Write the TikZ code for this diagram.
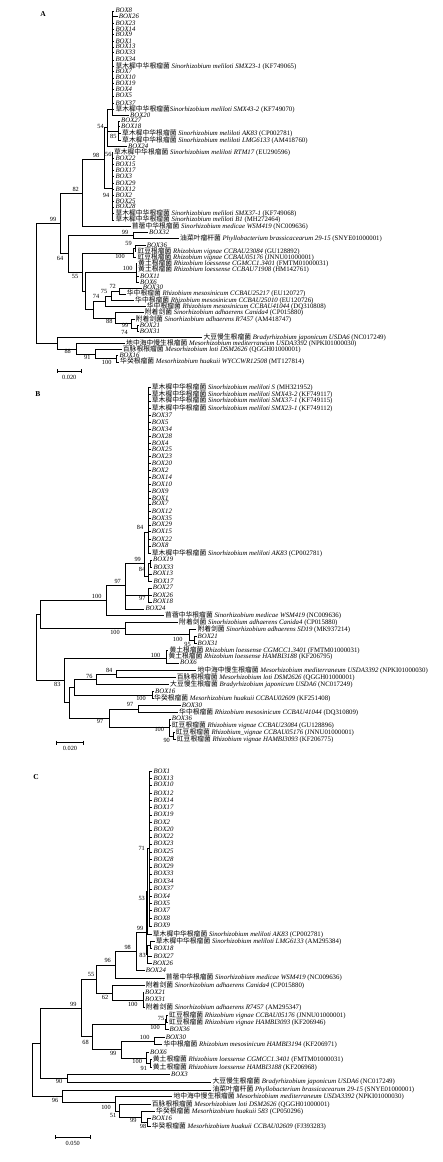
\documentclass[tikz,border=0pt]{standalone}
\usepackage{fontspec}
\setmainfont{Liberation Serif}
\newfontfamily\cjk{Noto Sans CJK SC}
\newcommand{\bx}[1]{\textit{BOX#1}}
\newcommand{\tax}[3]{{\cjk #1} \textit{#2} (#3)}
\tikzset{tip/.style={anchor=west,inner xsep=1pt,inner ysep=0pt,text height=4.6pt,text depth=1pt,font=\fontsize{6.8}{7}\selectfont},
  bs/.style={inner sep=0pt,font=\fontsize{6.3}{7}\selectfont},
  br/.style={line width=.75pt},
  panel/.style={inner sep=0pt,font=\fontsize{7.5}{8}\selectfont\bfseries}}

\begin{document}
\begin{tikzpicture}[x=1pt,y=-1pt]
\useasboundingbox (0,0) rectangle (443,1162);
% ---------- A ----------
\node[panel] (labA) at (43,14) {A};
\foreach \n/\x/\y/\t in {a1/114.3/11/\bx{8}, a2/117.7/16.7/\bx{26}, a3/114.3/23.3/\bx{23},
 a4/114.3/29.3/\bx{14}, a5/114.3/34.7/\bx{9}, a6/114.3/41.3/\bx{1}, a7/114.3/47/\bx{13},
 a8/114.3/52.7/\bx{33}, a9/114.3/60/\bx{34},
 a10/114.3/66.3/{\tax{草木樨中华根瘤菌}{Sinorhizobium meliloti SMX23-1}{KF749065}},
 a11/114.3/71.7/\bx{7}, a12/114.3/78/\bx{10}, a13/114.3/83.7/\bx{19}, a14/114.3/89.7/\bx{4},
 a15/114.3/96/\bx{5}, a16/114.3/103.3/\bx{37},
 a17/114.3/109.3/{{\cjk 草木樨中华根瘤菌}\textit{Sinorhizobium meliloti SMX43-2} (KF749070)},
 a18/129/115.3/\bx{20}, a19/120/121/\bx{27}, a20/120/126.7/\bx{18},
 a21/121/133.7/{\tax{草木樨中华根瘤菌}{Sinorhizobium meliloti AK83}{CP002781}},
 a22/121/140.7/{\tax{草木樨中华根瘤菌}{Sinorhizobium meliloti LMG6133}{AM418760}},
 a23/127/146.7/\bx{24},
 a24/112.8/152.3/{\tax{草木樨中华根瘤菌}{Sinorhizobium meliloti RTM17}{EU290596}},
 a25/114.3/158.3/\bx{22}, a26/114.3/164.7/\bx{15}, a27/114.3/170.7/\bx{17}, a28/114.3/176.7/\bx{3},
 a29/114.3/183.7/\bx{29}, a30/114.3/189.3/\bx{12}, a31/114.3/195.7/\bx{2}, a32/114.3/201.7/\bx{25},
 a33/114.3/207/\bx{28},
 a34/114.3/213.7/{\tax{草木樨中华根瘤菌}{Sinorhizobium meliloti SMX37-1}{KF749068}},
 a35/114.3/220/{\tax{草木樨中华根瘤菌}{Sinorhizobium meliloti B1}{MH272464}},
 a36/130.7/226.3/{\tax{苜蓿中华根瘤菌}{Sinorhizobium medicae WSM419}{NC009636}},
 a37/148/232.7/\bx{32},
 a38/179/238.3/{\tax{油菜叶瘤杆菌}{Phyllobacterium brassicacearum 29-15}{SNYE01000001}},
 a39/145.7/245.7/\bx{36},
 a40/136.3/251.7/{\tax{豇豆根瘤菌}{Rhizobium vignae CCBAU23084}{GU128892}},
 a41/136.3/257.3/{\tax{豇豆根瘤菌}{Rhizobium vignae CCBAU05176}{JNNU01000001}},
 a42/137/263.7/{\tax{黄土根瘤菌}{Rhizobium loessense CGMCC1.3401}{FMTM01000031}},
 a43/137/269.7/{\tax{黄土根瘤菌}{Rhizobium loessense CCBAU71908}{HM142761}},
 a44/139/276.3/\bx{11}, a45/139/282.5/\bx{6}, a46/141.7/287.9/\bx{30},
 a47/125.7/294.1/{\tax{华中根瘤菌}{Rhizobium mesosinicum CCBAU25217}{EU120727}},
 a48/134/300.5/{\tax{华中根瘤菌}{Rhizobium mesosinicum CCBAU25010}{EU120726}},
 a49/145.7/306.7/{\tax{华中根瘤菌}{Rhizobium mesosinicum CCBAU41044}{DQ310808}},
 a50/143.7/312.7/{\tax{附着剑菌}{Sinorhizobium adhaerens Canida4}{CP015880}},
 a51/134.5/319.5/{\tax{附着剑菌}{Sinorhizobium adhaerens R7457}{AM418747}},
 a52/138.7/325.3/\bx{21}, a53/138.7/331.2/\bx{31},
 a54/202.3/337.7/{\tax{大豆慢生根瘤菌}{Bradyrhizobium japonicum USDA6}{NC017249}},
 a55/125/343.7/{\tax{地中海中慢生根瘤菌}{Mesorhizobium mediterraneum USDA3392}{NPKI01000030}},
 a56/121.7/349.3/{\tax{百脉根根瘤菌}{Mesorhizobium loti DSM2626}{QGGH01000001}},
 a57/118.3/355.3/\bx{16},
 a58/119/362/{\tax{华癸根瘤菌}{Mesorhizobium huakuii WYCCWR12508}{MT127814}}}
 {\node[tip] (\n) at (\x,\y) {\t};}
\foreach \n/\x/\y in {Aroot/36.7/283.3, A99a/60.7/223.3, A82/82.3/193.3, A98/104/159,
 A54/107.3/127.7, Apoly/112/109.3, A85/118.3/131, A94/112/188.3, A64/68.3/253.8,
 A99b/133.3/235.5, A55/82.3/272.3, A100v/133.3/253.3, A59/135/248.7, Anc/85/291,
 A100l/136/272.3, Anb/93.3/309.7, A74/105.7/301.3, A75/111/296, A72/119/291.2,
 A88/115/318, A99c/131.7/323.8, A74c/137.3/328.2, Abr/57.3/343.3, A88m/76.7/348.9,
 A91/95.7/354, A100h/116.7/358.7}
 {\coordinate (\n) at (\x,\y);}
\foreach \i in {1,...,18} \draw[br] (Apoly) |- (a\i);
\foreach \i in {24,...,35} \draw[br] (A94) |- (a\i);
\foreach \p/\c in {A85/a19, A85/a20, A85/a21, A85/a22, A54/Apoly, A54/A85, A54/a23,
 A98/A54, A98/A94, A82/A98, A82/a36, A99b/a37, A99b/a38, A59/a39, A59/a40,
 A100v/A59, A100v/a41, A100l/a42, A100l/a43, A100l/a44, A100l/a45, A72/a46, A72/a47,
 A75/A72, A75/a48, A74/A75, A74/a49, A74c/a52, A74c/a53, A99c/a51, A99c/A74c,
 A88/a50, A88/A99c, Anb/A74, Anb/A88, Anc/A100l, Anc/Anb, A55/A100v, A55/Anc,
 A64/A99b, A64/A55, A99a/A82, A99a/A64, A100h/a57, A100h/a58, A91/a56, A91/A100h,
 A88m/a55, A88m/A91, Abr/a54, Abr/A88m, Aroot/A99a, Aroot/Abr}
 \draw[br] (\p) |- (\c);
\foreach \x/\y/\v [count=\k] in {100.5/126.7/54, 113.3/136.7/85, 108.3/154.3/56, 96/155.7/98,
 106/195/94, 75.7/189/82, 53/219.3/99, 125/232.5/99, 60/258.3/64, 128.5/243.7/59,
 120/256.7/100, 127.7/268.3/100, 75/276/55, 112.7/286.7/72, 104/291.7/75, 96/296.5/74,
 109.3/321.7/88, 125/325.7/99, 124.5/332.5/74, 67.7/351.7/88, 87.3/357.3/91, 106.7/362.7/100}
 \node[bs] (bA\k) at (\x,\y) {\v};
\coordinate (sA1) at (57.3,371); \coordinate (sA2) at (81.3,371);
\draw[br] (sA1) -- (sA2) (sA1) ++(0,-2) -- ++(0,4) (sA2) ++(0,-2) -- ++(0,4);
\node[bs] (scA) at (69.3,377) {0.020};
% ---------- B ----------
\node[panel] (labB) at (38,394) {B};
\foreach \n/\x/\y/\t in {
 b1/150.7/387.3/{\tax{草木樨中华根瘤菌}{Sinorhizobium meliloti S}{MH321952}},
 b2/150.7/394.7/{\tax{草木樨中华根瘤菌}{Sinorhizobium meliloti SMX43-2}{KF749117}},
 b3/150.7/401/{\tax{草木樨中华根瘤菌}{Sinorhizobium meliloti SMX37-1}{KF749115}},
 b4/150.7/408.3/{\tax{草木樨中华根瘤菌}{Sinorhizobium meliloti SMX23-1}{KF749112}},
 b5/150.7/415.3/\bx{37}, b6/150.7/422.3/\bx{5}, b7/150.7/429.3/\bx{34}, b8/150.7/436.7/\bx{28},
 b9/150.7/443.7/\bx{4}, b10/150.7/449.3/\bx{25}, b11/150.7/456.3/\bx{23}, b12/150.7/463.7/\bx{20},
 b13/150.7/470.3/\bx{2}, b14/150.7/477.3/\bx{14}, b15/150.7/484.3/\bx{10}, b16/150.7/491.3/\bx{9},
 b17/150.7/498.7/\bx{1}, b18/150.7/504/\bx{7}, b19/150.7/511.3/\bx{12}, b20/150.7/518.3/\bx{35},
 b21/150.7/525/\bx{29}, b22/150.7/531.8/\bx{15}, b23/150.7/539.3/\bx{22}, b24/150.7/546/\bx{8},
 b25/150.7/553.3/{\tax{草木樨中华根瘤菌}{Sinorhizobium meliloti AK83}{CP002781}},
 b26/152/560/\bx{19}, b27/152.3/567.3/\bx{33}, b28/151.7/574/\bx{13}, b29/152.3/581.3/\bx{17},
 b30/151.7/588/\bx{27}, b31/151.7/595.3/\bx{26}, b32/151.7/602/\bx{18}, b33/144.3/609/\bx{24},
 b34/164/615.7/{\tax{苜蓿中华根瘤菌}{Sinorhizobium medicae WSM419}{NC009636}},
 b35/178/622.3/{\tax{附着剑菌}{Sinorhizobium adhaerens Canida4}{CP015880}},
 b36/196.3/629.3/{\tax{附着剑菌}{Sinorhizobium adhaerens SD19}{MK937214}},
 b37/196.5/636.7/\bx{21}, b38/196.5/643.3/\bx{31},
 b39/168.3/650.7/{\tax{黄土根瘤菌}{Rhizobium loessense CGMCC1.3401}{FMTM01000031}},
 b40/167.3/656.3/{\tax{黄土根瘤菌}{Rhizobium loessense HAMBI3188}{KF206795}},
 b41/179/663/\bx{6},
 b42/196.3/670.7/{\tax{地中海中慢生根瘤菌}{Mesorhizobium mediterraneum USDA3392}{NPKI01000030}},
 b43/175.7/677.7/{\tax{百脉根根瘤菌}{Mesorhizobium loti DSM2626}{QGGH01000001}},
 b44/169/684.7/{\tax{大豆慢生根瘤菌}{Bradyrhizobium japonicum USDA6}{NC017249}},
 b45/154/691.7/\bx{16},
 b46/153/698.3/{\tax{华癸根瘤菌}{Mesorhizobium huakuii CCBAU02609}{KF251408}},
 b47/180.7/705.7/\bx{30},
 b48/178/712.3/{\tax{华中根瘤菌}{Rhizobium mesosinicum CCBAU41044}{DQ310809}},
 b49/170.7/719/\bx{36},
 b50/170.7/725.3/{\tax{豇豆根瘤菌}{Rhizobium vignae CCBAU23084}{GU128896}},
 b51/174.7/732.7/{\tax{豇豆根瘤菌}{Rhizobium\_vignae CCBAU05176}{JNNU01000001}},
 b52/175.7/739.3/{\tax{豇豆根瘤菌}{Rhizobium vignae HAMBI3093}{KF206775}}}
 {\node[tip] (\n) at (\x,\y) {\t};}
\foreach \n/\x/\y in {Broot/36/647, B1/40/614, B100/106.7/600, B97b/125/585, B99/144.3/563.3,
 Bpoly/148.3/532.3, B84b/148.3/576, Bs1/150.7/563.7, B97a/148.3/595, B100a/125/628.5,
 B100b/189.3/634.7, B95/194/640, B83/64.3/680.4, B100L/166/658.3, B69/69/702.5, Bx/74/687,
 B76/96.7/679.3, Bm84/116.7/674, B100h/152.7/695, B97c/109/718, B97d/138.7/709,
 B100v/169.5/727.5, B90/173.5/736}
 {\coordinate (\n) at (\x,\y);}
\foreach \i in {1,...,25} \draw[br] (Bpoly) |- (b\i);
\foreach \p/\c in {Bs1/b26, Bs1/b27, B84b/Bs1, B84b/b28, B84b/b29, B99/Bpoly, B99/B84b,
 B97a/b30, B97a/b31, B97a/b32, B97b/B99, B97b/B97a, B97b/b33, B100/B97b, B100/b34,
 B95/b37, B95/b38, B100b/b36, B100b/B95, B100a/b35, B100a/B100b, B1/B100, B1/B100a,
 B100L/b39, B100L/b40, B100L/b41, Bm84/b42, Bm84/b43, B76/Bm84, B76/b44, B100h/b45,
 B100h/b46, Bx/B76, Bx/B100h, B97d/b47, B97d/b48, B90/b51, B90/b52, B100v/b49, B100v/b50,
 B100v/B90, B97c/B97d, B97c/B100v, B69/Bx, B69/B97c, B83/B100L, B83/B69, Broot/B1, Broot/B83}
 \draw[br] (\p) |- (\c);
\foreach \x/\y/\v [count=\k] in {140/527.7/84, 137.7/559/99, 142/569.3/84, 142.3/598.7/97,
 117.7/581/97, 96.7/596.7/100, 115/632.7/100, 177.7/639.3/100, 187.5/644/95, 155.5/655.8/100,
 57.3/684.3/83, 109.2/670.3/84, 89.3/676/76, 141/698.3/100, 130/704.7/97, 100/721.7/97,
 159.3/729.3/100, 166.7/740.3/90}
 \node[bs] (bB\k) at (\x,\y) {\v};
\coordinate (sB1) at (56.7,742.7); \coordinate (sB2) at (83.3,742.7);
\draw[br] (sB1) -- (sB2) (sB1) ++(0,-2) -- ++(0,4) (sB2) ++(0,-2) -- ++(0,4);
\node[bs] (scB) at (70,748.7) {0.020};
% ---------- C ----------
\node[panel] (labC) at (36,777.3) {C};
\foreach \n/\x/\y/\t in {c1/152.3/771.7/\bx{1}, c2/152.3/778.3/\bx{13}, c3/152.3/785/\bx{10},
 c4/152.3/793.3/\bx{12}, c5/152.3/800.3/\bx{14}, c6/152.3/807.3/\bx{17}, c7/152.3/815/\bx{19},
 c8/152.3/822.3/\bx{2}, c9/152.3/830/\bx{20}, c10/152.3/837/\bx{22}, c11/152.3/844/\bx{23},
 c12/152.3/852/\bx{25}, c13/152.3/859.3/\bx{28}, c14/152.3/867/\bx{29}, c15/152.3/874/\bx{33},
 c16/152.3/882/\bx{34}, c17/152.3/889/\bx{37}, c18/152.3/896.3/\bx{4}, c19/152.3/903.7/\bx{5},
 c20/152.3/910.7/\bx{7}, c21/152.3/918.7/\bx{8}, c22/152.3/926/\bx{9},
 c23/151.7/934.3/{\tax{草木樨中华根瘤菌}{Sinorhizobium meliloti AK83}{CP002781}},
 c24/154.7/941.7/{\tax{草木樨中华根瘤菌}{Sinorhizobium meliloti LMG6133}{AM295384}},
 c25/152.3/948.3/\bx{18}, c26/152.3/956.3/\bx{27}, c27/151.7/963.3/\bx{26}, c28/144.7/970.3/\bx{24},
 c29/164.7/978/{\tax{苜蓿中华根瘤菌}{Sinorhizobium medicae WSM419}{NC009636}},
 c30/144.7/985.7/{\tax{附着剑菌}{Sinorhizobium adhaerens Canida4}{CP015880}},
 c31/144/992.7/\bx{21}, c32/144/1000/\bx{31},
 c33/144.7/1007.3/{\tax{附着剑菌}{Sinorhizobium adhaerens R7457}{AM295347}},
 c34/168/1015.7/{\tax{豇豆根瘤菌}{Rhizobium vignae CCBAU05176}{JNNU01000001}},
 c35/168/1022.3/{\tax{豇豆根瘤菌}{Rhizobium vignae HAMBI3093}{KF206946}},
 c36/168.5/1029.3/\bx{36}, c37/164.7/1037.3/\bx{30},
 c38/162.3/1044.7/{\tax{华中根瘤菌}{Rhizobium mesosinicum HAMBI3194}{KF206971}},
 c39/149/1052.7/\bx{6},
 c40/151.7/1059.7/{\tax{黄土根瘤菌}{Rhizobium loessense CGMCC1.3401}{FMTM01000031}},
 c41/151.7/1067.3/{\tax{黄土根瘤菌}{Rhizobium loessense HAMBI3188}{KF206968}},
 c42/170/1074.7/\bx{3},
 c43/211.3/1082/{\tax{大豆慢生根瘤菌}{Bradyrhizobium japonicum USDA6}{NC017249}},
 c44/211.3/1090/{\tax{油菜叶瘤杆菌}{Phyllobacterium brassicacearum 29-15}{SNYE01000001}},
 c45/172.3/1096.7/{\tax{地中海中慢生根瘤菌}{Mesorhizobium mediterraneum USDA3392}{NPKI01000030}},
 c46/150.7/1104.3/{\tax{百脉根根瘤菌}{Mesorhizobium loti DSM2626}{QGGH01000001}},
 c47/155/1111.3/{\tax{华癸根瘤菌}{Mesorhizobium huakuii 583}{CP050296}},
 c48/150.7/1118.7/\bx{16},
 c49/150.7/1126.7/{\tax{华癸根瘤菌}{Mesorhizobium huakuii CCBAU02609}{FJ393283}}}
 {\node[tip] (\n) at (\x,\y) {\t};}
\foreach \n/\x/\y in {Croot/32.3/1070, C1/40.7/1043.3, C99b/81.7/1008.3, C55/96.7/979,
 C96/115/965, C98/136.7/951.5, C99x/146.3/932.7, C53/147.7/891.5, C71/149.3/848.8,
 C83/147.7/954, Cl/150.7/945, C62/112.3/993, C100c/143/1000, C68/92.3/1036,
 Cv100/165/1024, C75/166.7/1019, C99m/121.7/1049.5, C100m/154.3/1041, C100L/146.7/1058,
 C91/150.7/1063.5, C90/67.3/1078.3, C96b/62.3/1096, C100M/115.3/1102, C51/119.7/1111,
 C99h/141.7/1117, C98h/147.7/1122.7}
 {\coordinate (\n) at (\x,\y);}
\foreach \i in {1,...,22} \draw[br] (C71) |- (c\i);
\foreach \p/\c in {C53/C71, C53/c23, Cl/c24, Cl/c25, C83/Cl, C83/c26, C83/c27, C99x/C53,
 C99x/C83, C98/C99x, C98/c28, C96/C98, C96/c29, C100c/c31, C100c/c32, C100c/c33,
 C62/c30, C62/C100c, C55/C96, C55/C62, C75/c34, C75/c35, Cv100/C75, Cv100/c36,
 C100m/c37, C100m/c38, C91/c40, C91/c41, C100L/c39, C100L/C91, C99m/C100m, C99m/C100L,
 C68/Cv100, C68/C99m, C99b/C55, C99b/C68, C90/c42, C90/c43, C1/C99b, C1/C90,
 C98h/c48, C98h/c49, C99h/c47, C99h/C98h, C51/c46, C51/C99h, C100M/c45, C100M/C51,
 C96b/c44, C96b/C100M, Croot/C1, Croot/C96b}
 \draw[br] (\p) |- (\c);
\foreach \x/\y/\v [count=\k] in {141.7/848.3/71, 141.7/898.3/53, 140/928.3/99, 127.7/947.3/98,
 142.5/955/83, 107.7/960/96, 91/974.3/55, 105/997/62, 132.8/1004.3/100, 73.3/1004.3/99,
 161/1018.7/75, 155/1027.7/100, 85.5/1042/68, 144.7/1037.3/100, 113.2/1053.8/99,
 137.2/1061.7/100, 143.8/1068/91, 59/1081.7/90, 55/1100.7/96, 106/1107.3/100,
 113/1115.7/51, 133.3/1120.7/99, 143/1126.7/98}
 \node[bs] (bC\k) at (\x,\y) {\v};
\coordinate (sC1) at (55,1137.3); \coordinate (sC2) at (90.7,1137.3);
\draw[br] (sC1) -- (sC2) (sC1) ++(0,-2) -- ++(0,4) (sC2) ++(0,-2) -- ++(0,4);
\node[bs] (scC) at (72.8,1143.3) {0.050};
\end{tikzpicture}
\end{document}
